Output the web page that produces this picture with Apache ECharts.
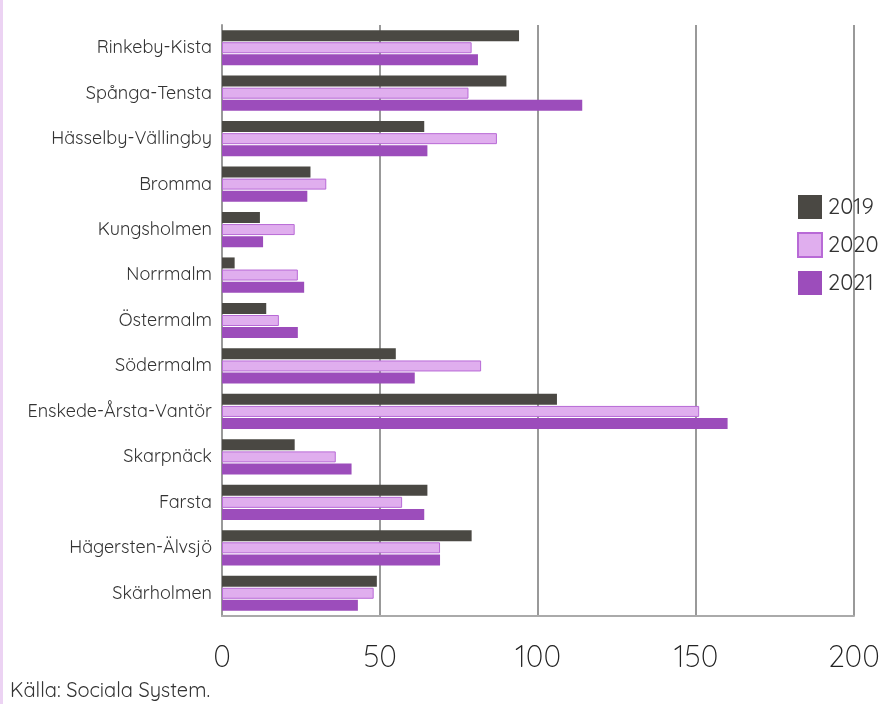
<!DOCTYPE html>
<html><head><meta charset="utf-8">
<script src="https://cdn.jsdelivr.net/npm/echarts@6/dist/echarts.min.js"></script>
<style>html,body{margin:0;padding:0;background:#fff}#c{width:887px;height:704px;position:relative}</style>
</head><body><div id="c"></div>
<script>
const categories = ['Rinkeby-Kista','Spånga-Tensta','Hässelby-Vällingby','Bromma','Kungsholmen','Norrmalm','Östermalm','Södermalm','Enskede-Årsta-Vantör','Skarpnäck','Farsta','Hägersten-Älvsjö','Skärholmen'];
const v2019 = [94,90,64,28,12,4,14,55,106,23,65,79,49];
const v2020 = [79,78,87,33,23,24,18,82,151,36,57,69,48];
const v2021 = [81,114,65,27,13,26,24,61,160,41,64,69,43];
const seriesNames = ['2019','2020','2021'];
const source = 'Källa: Sociala System.';

const chart = echarts.init(document.getElementById('c'), null, {renderer:'canvas'});
const font = 'Quicksand, "Century Gothic", Lato, "Noto Sans", sans-serif';
chart.setOption({
  animation:false,
  textStyle:{fontFamily:font},
  graphic:[
    {type:'rect', left:0, top:0, shape:{width:3,height:704}, style:{fill:'#ecd3f3'}},
    {type:'text', left:10, top:681, style:{text:source, fontSize:20, fill:'#333', fontFamily:font}}
  ],
  legend:{
    orient:'vertical', left:792, top:190, itemWidth:24, itemHeight:24, itemGap:13, icon:'rect',
    textStyle:{fontSize:22, color:'#333', fontFamily:font, padding:[0,0,0,1]},
    data:seriesNames
  },
  grid:{left:222, right:33, top:25, bottom:88, containLabel:false},
  xAxis:{
    type:'value', min:0, max:200, interval:50,
    axisLine:{show:true, lineStyle:{color:'#aaa', width:2}},
    axisTick:{show:false},
    splitLine:{show:true, lineStyle:{color:'#999', width:2}},
    axisLabel:{fontSize:30, color:'#222', margin:27, fontFamily:font, fontWeight:300}
  },
  yAxis:{
    type:'category', inverse:true, data:categories,
    axisLine:{show:true, lineStyle:{color:'#999', width:2}},
    axisTick:{show:false},
    axisLabel:{fontSize:18, color:'#333', margin:10, fontFamily:font, padding:[6,0,0,0]}
  },
  series:[
    {name:seriesNames[0], type:'bar', data:v2019, barWidth:11, barGap:'10%', itemStyle:{color:'#4a4843'}},
    {name:seriesNames[1], type:'bar', data:v2020, barWidth:11, barGap:'10%', itemStyle:{color:'#e0aeee', borderColor:'#b86ad6', borderWidth:1}},
    {name:seriesNames[2], type:'bar', data:v2021, barWidth:11, barGap:'10%', itemStyle:{color:'#9c4dbb'}}
  ]
});
</script></body></html>
